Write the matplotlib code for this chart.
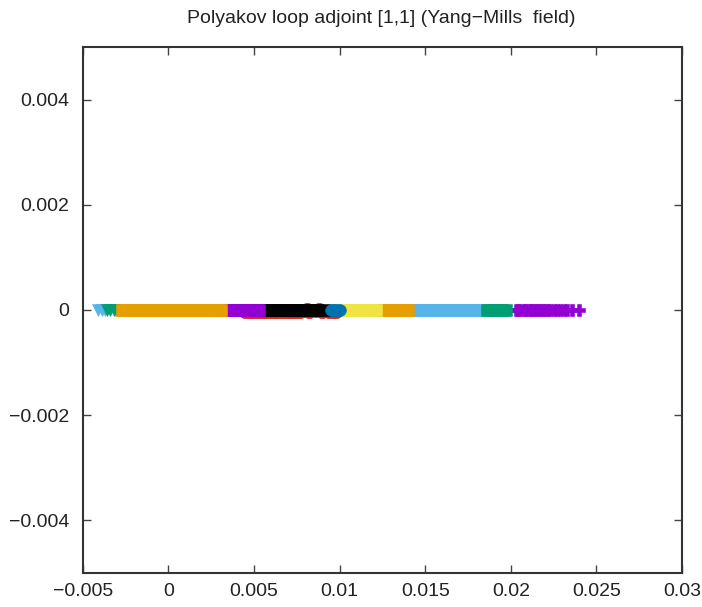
import matplotlib
matplotlib.use("Agg")
import matplotlib.pyplot as plt
from matplotlib.ticker import FuncFormatter, MultipleLocator

plt.rcParams['font.family'] = ['Liberation Sans', 'DejaVu Sans']

# Polyakov loop samples (real part on x, imaginary part on y), one list per run
purple_hi_x = [0.0203, 0.0204, 0.0205, 0.0207, 0.0208, 0.0209, 0.0211, 0.0212, 0.0213,
               0.0215, 0.0216, 0.0217, 0.0219, 0.0220, 0.0222, 0.0223, 0.0225, 0.0227,
               0.0229, 0.0231, 0.0233, 0.0236, 0.0240]
green_hi_x = [0.0186, 0.0187, 0.0189, 0.0190, 0.0191, 0.0193, 0.0194, 0.0195, 0.0197]
lblue_hi_x = [0.0146, 0.0147, 0.0149, 0.0150, 0.0152, 0.0153, 0.0155, 0.0156, 0.0158,
              0.0159, 0.0161, 0.0162, 0.0164, 0.0165, 0.0167, 0.0168, 0.0170, 0.0171,
              0.0173, 0.0174, 0.0176, 0.0177, 0.0179, 0.0180, 0.0191]
orange_hi_x = [0.0126, 0.0127, 0.0129, 0.0130, 0.0132, 0.0133, 0.0135, 0.0136, 0.0138,
               0.0139, 0.0140]
yellow_x = [0.0104, 0.0105, 0.0107, 0.0108, 0.0110, 0.0111, 0.0113, 0.0114, 0.0116,
            0.0117, 0.0119, 0.0121]
red_x = [0.0045, 0.0047, 0.0049, 0.0051, 0.0053, 0.0055, 0.0057, 0.0059, 0.0061,
         0.0063, 0.0065, 0.0067, 0.0069, 0.0071, 0.0073, 0.0075, 0.0077, 0.0079,
         0.0081, 0.0082, 0.0084, 0.0086, 0.0088, 0.0090, 0.0092, 0.0094, 0.0096,
         0.0098]
red_y = [-4e-5, -4e-5, -4e-5, -4e-5, -4e-5, -4e-5, -4e-5, -4e-5, -4e-5,
         -4e-5, -4e-5, -4e-5, -4e-5, -4e-5, -4e-5, -4e-5, -3e-5, -2e-5,
         1e-5, -3e-5, 0.0, -2e-5, 1e-5, -3e-5, -2e-5, -3e-5, -3e-5,
         -3e-5]
black_x = [0.0056, 0.0057, 0.0058, 0.0059, 0.0061, 0.0062, 0.0063, 0.0064, 0.0066,
           0.0067, 0.0068, 0.0069, 0.0071, 0.0072, 0.0073, 0.0075, 0.0076, 0.0079,
           0.0083, 0.0087, 0.0091]
blue_x = [0.0095, 0.0096, 0.0097, 0.0098, 0.0099, 0.0100]
purple_mid_x = [0.0026, 0.0030, 0.0034, 0.0037, 0.0039, 0.0040, 0.0041, 0.0042, 0.0043,
                0.0044, 0.0045, 0.0046, 0.0047, 0.0048, 0.0049, 0.0050, 0.0051, 0.0052,
                0.0053]
lblue_lo_x = [-0.0041, -0.0039, -0.0037, -0.0031]
green_lo_x = [-0.0036, -0.0034, -0.0032, -0.0030, -0.0028]
orange_lo_x = [-0.0027, -0.0026, -0.0025, -0.0024, -0.0022, -0.0021, -0.0020, -0.0018,
               -0.0017, -0.0016, -0.0014, -0.0013, -0.0012, -0.0010, -0.0009, -0.0008,
               -0.0006, -0.0005, -0.0004, -0.0002, -0.0001, 0.0000, 0.0002, 0.0003,
               0.0004, 0.0006, 0.0007, 0.0008, 0.0010, 0.0011, 0.0012, 0.0014, 0.0015,
               0.0016, 0.0018, 0.0019, 0.0020, 0.0022, 0.0023, 0.0024, 0.0026, 0.0027,
               0.0028, 0.0030, 0.0031]

fig = plt.figure(figsize=(7.02, 6.07), dpi=100)
ax = fig.add_axes([0.118, 0.056, 0.8535, 0.8666])

ms = 8.5
def series(xs, color, marker, ys=None, size=ms):
    if ys is None:
        ys = [0.0] * len(xs)
    ax.plot(xs, ys, linestyle='none', marker=marker, color=color,
            markersize=size, markeredgewidth=0.4)

series(purple_hi_x, '#9400d3', 'P', size=9)
series(lblue_hi_x, '#56b4e9', 's')
series(green_hi_x, '#009e73', 's', size=8)
series(orange_hi_x, '#e69f00', 's')
series(yellow_x, '#f0e442', 's')
series(red_x, '#e51e10', 'o', ys=red_y, size=9)
series(black_x, '#000000', 's', size=8.5)
series(blue_x, '#0072b2', 'o')
series(purple_mid_x, '#9400d3', 's', size=8)
series(lblue_lo_x, '#56b4e9', 'v')
series(green_lo_x, '#009e73', 'v')
series(orange_lo_x, '#e69f00', 's', size=8.5)

ax.set_xlim(-0.005, 0.03)
ax.set_ylim(-0.005, 0.005)
ax.xaxis.set_major_locator(MultipleLocator(0.005))
ax.yaxis.set_major_locator(MultipleLocator(0.002))
fmt = FuncFormatter(lambda v, p: ('%g' % round(v, 6)).replace('-', '\u2212'))
ax.xaxis.set_major_formatter(fmt)
ax.yaxis.set_major_formatter(fmt)

ax.tick_params(direction='in', length=6, width=1, color='#444444',
               top=True, right=True, labelsize=14, labelcolor='#222222')
ax.tick_params(axis='x', pad=7)
ax.tick_params(axis='y', pad=10)
for sp in ax.spines.values():
    sp.set_linewidth(1.5)
    sp.set_color('#333333')

fig.text(0.543, 0.970, 'Polyakov loop adjoint [1,1] (Yang\u2212Mills  field)',
         ha='center', va='center', fontsize=14, color='#222222')

fig.savefig('out.png', dpi=100)
